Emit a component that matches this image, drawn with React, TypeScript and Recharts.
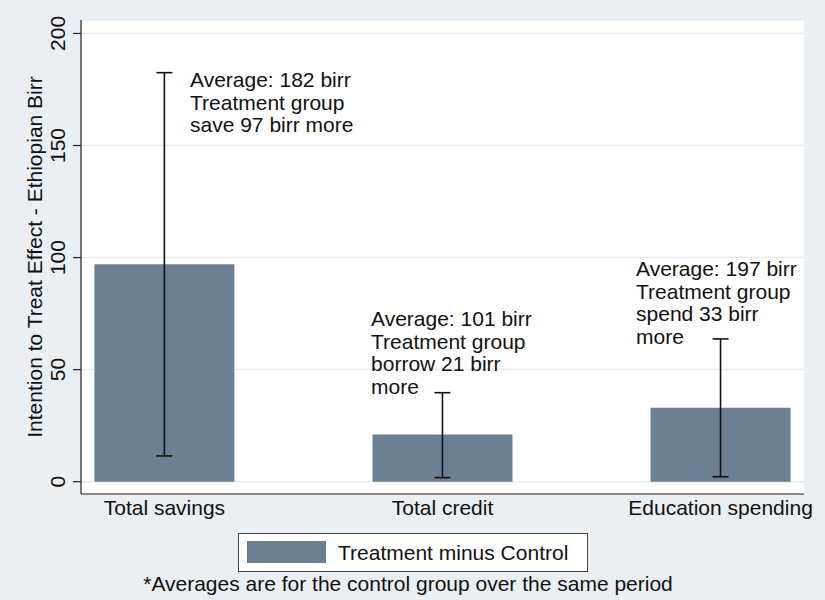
import React from 'react';
import {
  ComposedChart,
  Bar,
  ErrorBar,
  XAxis,
  YAxis,
  CartesianGrid,
  ReferenceDot,
} from 'recharts';

const categories = ['Total savings', 'Total credit', 'Education spending'];
const effect = [97, 21, 33];
const ciLow = [11.5, 1.8, 2.2];
const ciHigh = [182.5, 39.7, 63.7];
const yTicks = [0, 50, 100, 150, 200];

// text annotations, anchored (left edge, first baseline) in data units
const notes = [
  { x: 1.092, y: 176.1, lines: ['Average: 182 birr', 'Treatment group', 'save 97 birr more'] },
  { x: 1.743, y: 69.5, lines: ['Average: 101 birr', 'Treatment group', 'borrow 21 birr', 'more'] },
  { x: 2.696, y: 91.8, lines: ['Average: 197 birr', 'Treatment group', 'spend 33 birr', 'more'] },
];

const FONT = '"Liberation Sans", Arial, Helvetica, sans-serif';
const FS = 21;
const BAR_COLOR = '#6c7f93';
const AXIS_COLOR = '#222';
const BG = '#e9eff3';

const data = categories.map((name, i) => ({
  pos: i + 1,
  name,
  effect: effect[i],
  err: [effect[i] - ciLow[i], ciHigh[i] - effect[i]],
}));

const XTick = ({ x, payload }: any) => (
  <text x={x} y={515} textAnchor="middle" fontSize={FS} fontFamily={FONT} fill="#111">
    {categories[payload.value - 1]}
  </text>
);

const YTick = ({ y, payload }: any) => (
  <text
    transform={`translate(65, ${y}) rotate(-90)`}
    textAnchor="middle"
    fontSize={FS}
    fontFamily={FONT}
    fill="#111"
  >
    {payload.value}
  </text>
);

const YLabel = ({ viewBox }: any) => {
  const cy = viewBox.y + viewBox.height / 2;
  return (
    <text
      transform={`translate(41.5, ${cy}) rotate(-90)`}
      textAnchor="middle"
      fontSize={FS}
      fontFamily={FONT}
      fill="#111"
    >
      Intention to Treat Effect - Ethiopian Birr
    </text>
  );
};

const NoteText = ({ cx, cy, lines }: any) => (
  <text x={cx} y={cy} fontSize={FS} fontFamily={FONT} fill="#111">
    {lines.map((l: string, i: number) => (
      <tspan key={i} x={cx} dy={i === 0 ? 0 : 22.6}>
        {l}
      </tspan>
    ))}
  </text>
);

export default function App() {
  return (
    <div style={{ position: 'absolute', left: 0, top: 0, width: 825, height: 600, background: BG }}>
      <ComposedChart
        width={825}
        height={600}
        data={data}
        margin={{ top: 20, right: 21, bottom: 76, left: 21 }}
      >
        <CartesianGrid vertical={false} fill="#fff" stroke="#e8ecef" strokeWidth={1.5} />
        <XAxis
          type="number"
          dataKey="pos"
          domain={[0.7, 3.3]}
          ticks={[1, 2, 3]}
          allowDataOverflow
          height={30}
          tickLine={false}
          axisLine={{ stroke: AXIS_COLOR, strokeWidth: 1.2 }}
          tick={<XTick />}
        />
        <YAxis
          type="number"
          domain={[-5.5, 206]}
          ticks={yTicks}
          allowDataOverflow
          width={60}
          tickSize={8}
          tickLine={{ stroke: AXIS_COLOR, strokeWidth: 1.2 }}
          axisLine={{ stroke: AXIS_COLOR, strokeWidth: 1.2 }}
          tick={<YTick />}
          label={<YLabel />}
        />
        <Bar dataKey="effect" fill={BAR_COLOR} barSize={140} isAnimationActive={false}>
          <ErrorBar
            dataKey="err"
            direction="y"
            width={8}
            stroke="#111"
            strokeWidth={1.6}
            isAnimationActive={false}
          />
        </Bar>
        {notes.map((n, i) => (
          <ReferenceDot
            key={i}
            x={n.x}
            y={n.y}
            r={0}
            shape={(p: any) => <NoteText cx={p.cx} cy={p.cy} lines={n.lines} />}
          />
        ))}
      </ComposedChart>
      <svg
        width={825}
        height={600}
        style={{ position: 'absolute', left: 0, top: 0, pointerEvents: 'none' }}
      >
        <rect x={238.5} y={533.5} width={349} height={38} fill="#fff" stroke="#444" strokeWidth={1} />
        <rect x={247} y={541} width={79} height={22} fill={BAR_COLOR} />
        <text x={338} y={560} fontSize={FS} fontFamily={FONT} fill="#111">
          Treatment minus Control
        </text>
        <text x={408} y={591} textAnchor="middle" fontSize={FS} fontFamily={FONT} fill="#111">
          *Averages are for the control group over the same period
        </text>
      </svg>
    </div>
  );
}
